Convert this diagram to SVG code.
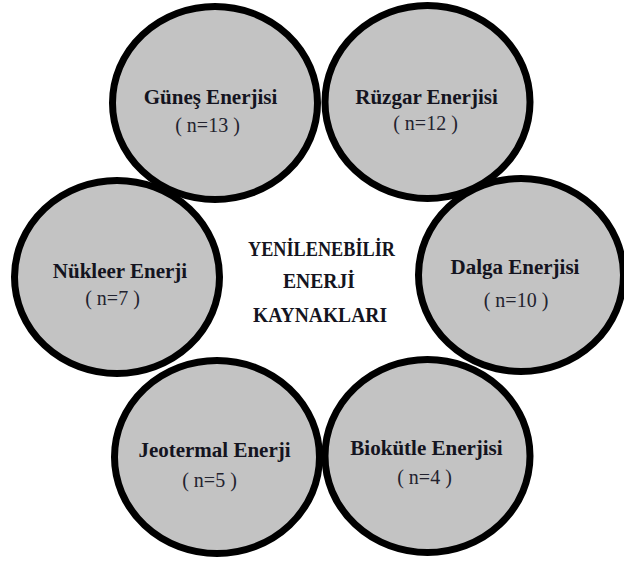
<svg xmlns="http://www.w3.org/2000/svg" width="624" height="561" viewBox="0 0 624 561" font-family="'Liberation Serif', 'Times New Roman', serif">
<style>
.c{fill:#c3c3c3;stroke:#000;stroke-width:7}
.t{font-family:'Liberation Serif','Times New Roman',serif;font-weight:bold;font-size:21px;fill:#141420;text-anchor:middle}
.n{font-family:'Liberation Serif','Times New Roman',serif;font-size:20px;fill:#22222e;text-anchor:middle}
</style>
<rect width="624" height="561" fill="#fff"/>
<g id="gunes">
<ellipse class="c" cx="215" cy="103" rx="102.5" ry="96.5"/>
<text class="t" x="210.5" y="104">Güneş Enerjisi</text>
<text class="n" x="207.5" y="132">( n=13 )</text>
</g>
<g id="ruzgar">
<ellipse class="c" cx="427.5" cy="102" rx="102.5" ry="96.5"/>
<text class="t" x="426.5" y="104">Rüzgar Enerjisi</text>
<text class="n" x="425.5" y="130">( n=12 )</text>
</g>
<g id="nukleer">
<ellipse class="c" cx="117" cy="277" rx="102.5" ry="96.5"/>
<text class="t" x="120" y="278">Nükleer Enerji</text>
<text class="n" x="112.5" y="305">( n=7 )</text>
</g>
<g id="dalga">
<ellipse class="c" cx="521" cy="275" rx="102.5" ry="96.5"/>
<text class="t" x="515" y="274">Dalga Enerjisi</text>
<text class="n" x="516" y="307">( n=10 )</text>
</g>
<g id="jeotermal">
<ellipse class="c" cx="217" cy="457" rx="102.5" ry="96.5"/>
<text class="t" x="214.5" y="457">Jeotermal Enerji</text>
<text class="n" x="209.5" y="487">( n=5 )</text>
</g>
<g id="biokutle">
<ellipse class="c" cx="427.5" cy="456" rx="102.5" ry="96.5"/>
<text class="t" x="426.5" y="455">Biokütle Enerjisi</text>
<text class="n" x="424.5" y="484">( n=4 )</text>
</g>
<g id="merkez">
<text class="t" x="321.5" y="256" textLength="147" lengthAdjust="spacingAndGlyphs">YENİLENEBİLİR</text>
<text class="t" x="319" y="288" textLength="72" lengthAdjust="spacingAndGlyphs">ENERJİ</text>
<text class="t" x="320" y="322" textLength="134" lengthAdjust="spacingAndGlyphs">KAYNAKLARI</text>
</g>
</svg>
